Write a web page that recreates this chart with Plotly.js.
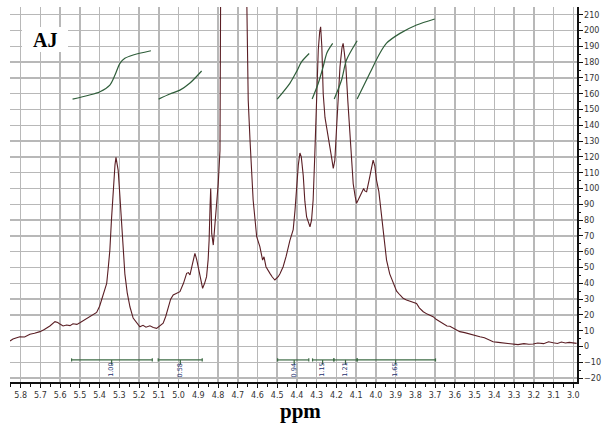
<!DOCTYPE html>
<html>
<head>
<meta charset="utf-8">
<script src="https://cdn.plot.ly/plotly-3.0.1.min.js"></script>
<style>html,body{margin:0;padding:0;background:#fff;}#chart{width:602px;height:425px;}</style>
</head>
<body>
<div id="chart"></div>
<script>
// ---- Spectrum (ppm, intensity) ----
const specPpm = [5.854,5.839,5.82,5.804,5.78,5.753,5.73,5.702,5.68,5.652,5.626,5.612,5.601,5.585,5.567,5.55,5.535,5.515,5.500,5.475,5.449,5.43,5.415,5.400,5.390,5.375,5.364,5.356,5.348,5.340,5.331,5.322,5.317,5.312,5.306,5.297,5.288,5.280,5.272,5.260,5.246,5.230,5.212,5.196,5.18,5.165,5.145,5.128,5.111,5.095,5.078,5.065,5.052,5.040,5.027,5.010,4.993,4.975,4.959,4.950,4.942,4.930,4.917,4.908,4.900,4.888,4.878,4.868,4.858,4.850,4.845,4.840,4.837,4.834,4.832,4.824,4.811,4.799,4.790,4.782,4.777,4.771,4.713,4.656,4.647,4.638,4.622,4.604,4.588,4.574,4.567,4.557,4.547,4.537,4.525,4.512,4.495,4.486,4.470,4.455,4.436,4.425,4.419,4.410,4.402,4.393,4.385,4.378,4.368,4.360,4.351,4.342,4.334,4.326,4.318,4.310,4.301,4.292,4.285,4.280,4.274,4.267,4.258,4.250,4.240,4.233,4.225,4.216,4.208,4.199,4.190,4.182,4.172,4.166,4.160,4.152,4.142,4.132,4.122,4.115,4.105,4.098,4.085,4.073,4.062,4.056,4.047,4.035,4.022,4.014,4.005,3.997,3.985,3.980,3.963,3.946,3.930,3.912,3.895,3.878,3.862,3.845,3.820,3.805,3.794,3.780,3.760,3.740,3.725,3.710,3.695,3.676,3.655,3.640,3.625,3.600,3.575,3.550,3.525,3.500,3.473,3.450,3.430,3.406,3.380,3.350,3.330,3.305,3.280,3.250,3.225,3.203,3.180,3.150,3.125,3.102,3.080,3.060,3.040,3.020,2.983];
const specInt = [3.5,4.7,5.5,6.2,6.0,7.8,8.4,9.4,10.8,13.0,15.7,15.2,14.2,13.0,13.6,13.2,14.4,14.0,15.0,16.8,18.9,20.0,21.6,25.5,29.4,35,40,50,61,80,99,115,119.7,117,111.7,95,78,60,46,34,25,18,14.7,12.5,13.4,12.2,13.1,12.0,11.5,12.8,14.7,19,25,30,32.6,33.5,34.7,40,46.3,46.8,45.3,52,59,55,50.5,42,36.8,40,44.2,55,67.4,90,100,85,71.6,64.2,82,103,124,167,198,260,2500,235,156,131,92.7,69.5,63.2,54.7,56.8,50.5,48,46.3,44,42.1,44.2,46,50.5,57,67,72,74,86,101,115,122.5,120,108,92,82,78,75.8,80,92.7,120,156,187.7,199,202.4,190,160,145,139,133,128.6,120,112.8,118,139,160,177,189,191.9,186,177,155,135,118,103,95,90.6,94,97,100,98.5,98,105,113,118,114,105.4,98,92.7,71.6,54.7,46,40,35,32.6,30.5,29.4,28.4,27.5,27.3,24.5,22,20.5,19.8,18.9,17.2,15.7,14.5,13.0,12.8,11.0,9.4,8.8,7.8,7.0,6.2,5.5,4.5,3.0,2.6,2.2,1.5,1.6,1.2,1.8,1.4,1.6,2.2,1.8,3.0,2.4,1.9,2.8,2.2,2.6,2.0];

// ---- Integral curves ----
const int1Ppm = [5.537,5.398,5.348,5.322,5.297,5.272,5.230,5.140];
const int1Val = [156.6,161.3,165.5,171.8,179.2,182.4,184.5,187.2];
const int2Ppm = [5.101,5.044,4.993,4.942,4.883];
const int2Val = [156.6,159.8,162.3,166.8,174.4];
const int3Ppm = [4.500,4.436,4.402,4.376,4.338];
const int3Val = [156.6,166.6,174.0,180.3,185.5];
const int4Ppm = [4.323,4.292,4.267,4.248,4.219];
const int4Val = [156.6,166.6,177.2,186.0,191.9];
const int5Ppm = [4.211,4.174,4.149,4.095];
const int5Val = [156.6,168.7,181.3,193.5];
const int6Ppm = [4.095,4.031,3.980,3.946,3.878,3.794,3.702];
const int6Val = [156.6,172.9,185.6,192.0,198.2,203.5,207.3];

// ---- Integration regions ----
const regStart = [5.542,5.103,4.498,4.321,4.213,4.095];
const regEnd   = [5.133,4.880,4.340,4.213,4.095,3.698];
const regMark  = [5.339,4.991,4.414,4.270,4.154,3.900];
const regLabel = ["1.00","0.58","0.94","1.15","1.21","1.65"];

const BAR_Y = -8.5;
const green = '#2f5e3a';

const traces = [];
traces.push({x: specPpm, y: specInt, type: 'scatter', mode: 'lines',
  line: {color: '#5a1e24', width: 1.1}, hoverinfo: 'skip'});
[[int1Ppm,int1Val],[int2Ppm,int2Val],[int3Ppm,int3Val],[int4Ppm,int4Val],[int5Ppm,int5Val],[int6Ppm,int6Val]].forEach(([px,py]) => {
  traces.push({x: px, y: py, type: 'scatter', mode: 'lines', line: {color: green, width: 1.2, shape: 'spline', smoothing: 0.8}, hoverinfo: 'skip'});
});
// bars with end caps and centre mark
const bx = [], by = [];
for (let i = 0; i < regStart.length; i++) {
  bx.push(regStart[i], regEnd[i], null);
  by.push(BAR_Y, BAR_Y, null);
  bx.push(regStart[i], regStart[i], null, regEnd[i], regEnd[i], null);
  by.push(BAR_Y - 1, BAR_Y + 1, null, BAR_Y - 1, BAR_Y + 1, null);
  bx.push(regMark[i], regMark[i], null);
  by.push(BAR_Y, BAR_Y - 3, null);
}
traces.push({x: bx, y: by, type: 'scatter', mode: 'lines', line: {color: '#3d6b45', width: 1.2}, hoverinfo: 'skip'});

const annotations = regLabel.map((t, i) => ({
  x: regMark[i], y: -15, xref: 'x', yref: 'y', text: t, showarrow: false, textangle: -90,
  font: {family: 'DejaVu Sans', size: 6.5, color: '#23306e'}
}));
annotations.push({xref: 'paper', yref: 'paper', x: (45 - 10) / 567, y: (382 - 40) / 375,
  text: '<b>AJ</b>', showarrow: false, xanchor: 'center', yanchor: 'middle',
  font: {family: 'Liberation Serif', size: 20, color: '#000'}});
annotations.push({xref: 'paper', yref: 'paper', x: (300 - 10) / 567, y: (382 - 397) / 375,
  text: '<b>ppm</b>', showarrow: false, xanchor: 'center', yanchor: 'top',
  font: {family: 'Liberation Serif', size: 21, color: '#000'}});

const layout = {
  width: 602, height: 425,
  margin: {l: 10, r: 25, t: 7, b: 43},
  paper_bgcolor: '#fff', plot_bgcolor: '#fff',
  showlegend: false,
  xaxis: {
    range: [5.854, 2.981], tick0: 3.0, dtick: 0.1, tickformat: '.1f',
    showgrid: true, gridcolor: '#b8b8b8', gridwidth: 1.5,
    showline: true, linecolor: '#111', linewidth: 2,
    ticks: 'outside', ticklen: 4, tickcolor: '#111', tickwidth: 1,
    tickfont: {family: 'DejaVu Sans', size: 8, color: '#333'},
    zeroline: false,
    minor: {dtick: 0.05, tick0: 3.0, ticks: 'outside', ticklen: 2.5, tickcolor: '#111', showgrid: false}
  },
  yaxis: {
    side: 'right', range: [-22.47, 214.9], tick0: 0, dtick: 10,
    showgrid: true, gridcolor: '#b8b8b8', gridwidth: 1.5,
    showline: true, linecolor: '#111', linewidth: 1.5,
    ticks: 'outside', ticklen: 4, tickcolor: '#111', tickwidth: 1,
    tickfont: {family: 'DejaVu Sans', size: 8, color: '#333'},
    zeroline: false,
    minor: {dtick: 5, ticks: 'outside', ticklen: 2, tickcolor: '#111', showgrid: false}
  },
  shapes: [{type: 'rect', xref: 'paper', yref: 'paper', layer: 'above',
    x0: (22 - 10) / 567, x1: (68 - 10) / 567, y0: (382 - 52) / 375, y1: (382 - 27) / 375,
    fillcolor: '#fff', line: {width: 0}}],
  annotations: annotations
};

Plotly.newPlot('chart', traces, layout, {displayModeBar: false, staticPlot: true});
</script>
</body>
</html>
